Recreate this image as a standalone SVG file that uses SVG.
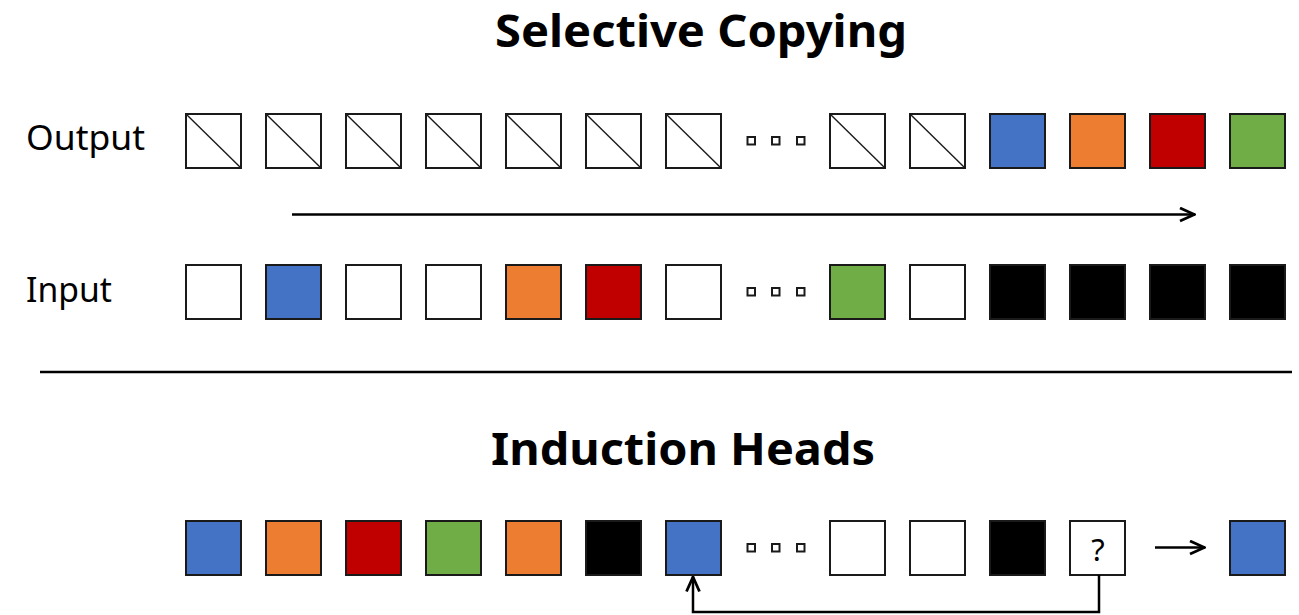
<svg xmlns="http://www.w3.org/2000/svg" width="1299" height="615" viewBox="0 0 1299 615">
<style>
.title{font-family:"Noto Sans","Liberation Sans",sans-serif;font-weight:bold;font-size:44px;fill:#000;text-anchor:middle}
.lbl{font-family:"Noto Sans","Liberation Sans",sans-serif;font-size:34px;fill:#000}
.sq{stroke:#1a1a1a;stroke-width:2}
.w{fill:#fff}.b{fill:#4472C4}.o{fill:#ED7D31}.r{fill:#C00000}.g{fill:#70AD47}.k{fill:#000}
.diag{stroke:#1a1a1a;stroke-width:1.4}
.dot{fill:#fff;stroke:#1a1a1a;stroke-width:2}
.conn{fill:none;stroke:#000;stroke-width:2.5}
</style>
<defs>
<marker id="ah" viewBox="0 0 18 16" refX="17" refY="8" markerWidth="18" markerHeight="16" orient="auto" markerUnits="userSpaceOnUse">
<path d="M2,1.5 L16.5,8 L2,14.5" fill="none" stroke="#000" stroke-width="2.8" stroke-linejoin="miter"/>
</marker>
<g id="empty"><rect class="sq w" x="0" y="0" width="55" height="54"/><line class="diag" x1="0" y1="0" x2="55" y2="54"/></g>
<g id="dots"><rect class="dot" x="747.5" y="-4" width="7.5" height="7.5"/><rect class="dot" x="772" y="-4" width="7.5" height="7.5"/><rect class="dot" x="797" y="-4" width="7.5" height="7.5"/></g>
</defs>

<text class="title" x="701" y="47" textLength="412" lengthAdjust="spacingAndGlyphs">Selective Copying</text>
<text class="lbl" x="26" y="150" textLength="119" lengthAdjust="spacingAndGlyphs">Output</text>
<text class="lbl" x="26" y="302" textLength="86" lengthAdjust="spacingAndGlyphs">Input</text>
<text class="title" x="683" y="465" textLength="384" lengthAdjust="spacingAndGlyphs">Induction Heads</text>

<g id="output-row" transform="translate(0,114)">
<use href="#empty" x="186"/><use href="#empty" x="266"/><use href="#empty" x="346"/><use href="#empty" x="426"/><use href="#empty" x="506"/><use href="#empty" x="586"/><use href="#empty" x="666"/>
<use href="#dots" y="27"/>
<use href="#empty" x="830"/><use href="#empty" x="910"/>
<rect class="sq b" x="990" y="0" width="55" height="54"/>
<rect class="sq o" x="1070" y="0" width="55" height="54"/>
<rect class="sq r" x="1150" y="0" width="55" height="54"/>
<rect class="sq g" x="1230" y="0" width="55" height="54"/>
</g>

<g id="input-row" transform="translate(0,265)">
<rect class="sq w" x="186" y="0" width="55" height="54"/>
<rect class="sq b" x="266" y="0" width="55" height="54"/>
<rect class="sq w" x="346" y="0" width="55" height="54"/>
<rect class="sq w" x="426" y="0" width="55" height="54"/>
<rect class="sq o" x="506" y="0" width="55" height="54"/>
<rect class="sq r" x="586" y="0" width="55" height="54"/>
<rect class="sq w" x="666" y="0" width="55" height="54"/>
<use href="#dots" y="27"/>
<rect class="sq g" x="830" y="0" width="55" height="54"/>
<rect class="sq w" x="910" y="0" width="55" height="54"/>
<rect class="sq k" x="990" y="0" width="55" height="54"/>
<rect class="sq k" x="1070" y="0" width="55" height="54"/>
<rect class="sq k" x="1150" y="0" width="55" height="54"/>
<rect class="sq k" x="1230" y="0" width="55" height="54"/>
</g>

<g id="induction-row" transform="translate(0,521)">
<rect class="sq b" x="186" y="0" width="55" height="54"/>
<rect class="sq o" x="266" y="0" width="55" height="54"/>
<rect class="sq r" x="346" y="0" width="55" height="54"/>
<rect class="sq g" x="426" y="0" width="55" height="54"/>
<rect class="sq o" x="506" y="0" width="55" height="54"/>
<rect class="sq k" x="586" y="0" width="55" height="54"/>
<rect class="sq b" x="666" y="0" width="55" height="54"/>
<use href="#dots" y="27"/>
<rect class="sq w" x="830" y="0" width="55" height="54"/>
<rect class="sq w" x="910" y="0" width="55" height="54"/>
<rect class="sq k" x="990" y="0" width="55" height="54"/>
<rect class="sq w" x="1070" y="0" width="55" height="54"/>
<text x="1098" y="40" font-family="'Noto Sans','Liberation Sans',sans-serif" font-size="31" text-anchor="middle" fill="#000">?</text>
<rect class="sq b" x="1230" y="0" width="55" height="54"/>
</g>

<g id="connectors">
<line x1="292" y1="214.5" x2="1195" y2="214.5" stroke="#000" stroke-width="2.5" marker-end="url(#ah)"/>
<line x1="40" y1="372" x2="1292" y2="372" stroke="#000" stroke-width="2.5"/>
<line x1="1155" y1="547.5" x2="1205" y2="547.5" stroke="#000" stroke-width="2.5" marker-end="url(#ah)"/>
<path class="conn" d="M1099,575 V612 H693 V576.5" marker-end="url(#ah)"/>
</g>
</svg>
